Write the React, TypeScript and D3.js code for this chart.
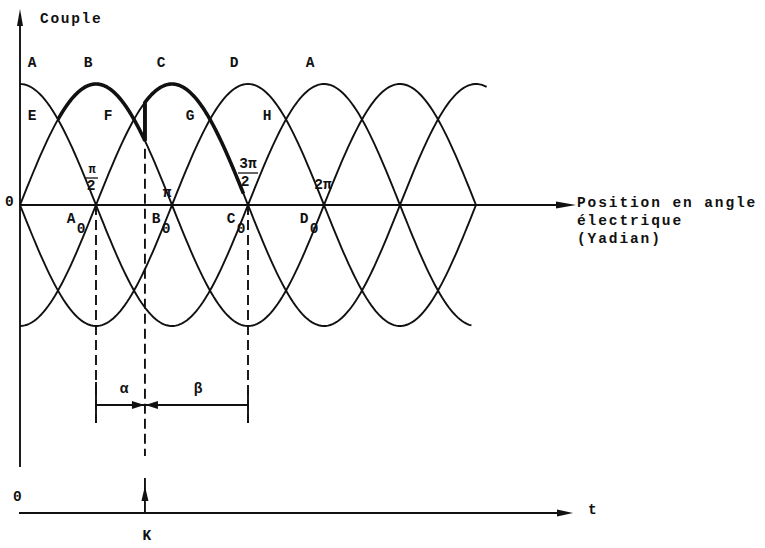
import React from 'react';
import * as d3 from 'd3';

const W = 765;
const H = 548;

// Phase windings, each torque curve is cos(θ − shift·π)
const phaseNames = ['A', 'B', 'C', 'D'];
const phaseShifts = [0, 0.5, 1, 1.5];
// Where each curve stops, in units of π
const curveEnds = [2.97, 3, 3.07, 3];

// Labels above the torque peaks (angle in units of π)
const peakNames = ['A', 'B', 'C', 'D', 'A'];
const peakAngles = [0, 0.5, 1, 1.5, 2];

// Crossing points of neighbouring curves
const crossNames = ['E', 'F', 'G', 'H'];
const crossAngles = [0.25, 0.75, 1.25, 1.75];

// Stable zero-torque positions
const zeroNames = ['A', 'B', 'C', 'D'];
const zeroAngles = [0.5, 1, 1.5, 2];

// Switching instant K and the stretch of the bold torque path
const boldStart = 0.25;
const switchAngle = 0.822;
const boldEnd = 1.47;

const FONT = "'Liberation Mono', 'DejaVu Sans Mono', monospace";

export default function App() {
  const x = d3.scaleLinear().domain([0, 3 * Math.PI]).range([20, 476]);
  const y = d3.scaleLinear().domain([-1, 1]).range([326, 84]);

  const torque = (i: number, t: number) => Math.cos(t - phaseShifts[i] * Math.PI);

  const line = d3
    .line<[number, number]>()
    .x((d) => x(d[0]))
    .y((d) => y(d[1]))
    .curve(d3.curveLinear);

  const sample = (i: number, a: number, b: number) =>
    d3.range(0, 201).map((k) => {
      const t = (a + ((b - a) * k) / 200) * Math.PI;
      return [t, torque(i, t)] as [number, number];
    });

  const y0 = y(0);
  const xK = x(switchAngle * Math.PI);

  const boldPath =
    line(sample(1, boldStart, switchAngle))! +
    'L' +
    line(sample(2, switchAngle, boldEnd))!.slice(1);

  const peakDx = [12, -8, -11, -14, -14];
  const crossDx = [-26, -26, -20, -19];
  const zeroDx = [-25, -16, -17, -20];

  const txt = { fontFamily: FONT, fontSize: 14.5, fontWeight: 700, fill: '#111' } as const;

  return (
    <svg width={W} height={H} viewBox={`0 0 ${W} ${H}`} style={{ position: 'absolute', left: 0, top: 0, background: '#fff' }}>
      <g stroke="#111" fill="none" strokeWidth={1.9}>
        {/* torque vs. angle axes */}
        <line x1={20} y1={14} x2={20} y2={467} />
        <line x1={20} y1={y0} x2={560} y2={y0} />
        {/* time axis */}
        <line x1={19} y1={513} x2={560} y2={513} />
        {/* phase curves */}
        {phaseNames.map((n, i) => (
          <path key={n} d={line(sample(i, 0, curveEnds[i]))!} />
        ))}
        <path d={boldPath} strokeWidth={3.6} strokeLinejoin="miter" />
        <line x1={xK} y1={y(torque(1, switchAngle * Math.PI))} x2={xK} y2={y(torque(2, switchAngle * Math.PI))} strokeWidth={3.6} />
        {/* dashed verticals */}
        <line x1={x(0.5 * Math.PI)} y1={y0} x2={x(0.5 * Math.PI)} y2={423} strokeDasharray="10,5" />
        <line x1={x(1.5 * Math.PI)} y1={y0} x2={x(1.5 * Math.PI)} y2={423} strokeDasharray="10,5" />
        <line x1={xK} y1={y(torque(1, switchAngle * Math.PI)) + 8} x2={xK} y2={456} strokeDasharray="10,5" />
        {/* α / β bracket */}
        <line x1={x(0.5 * Math.PI)} y1={382} x2={x(0.5 * Math.PI)} y2={423} />
        <line x1={x(1.5 * Math.PI)} y1={390} x2={x(1.5 * Math.PI)} y2={423} />
        <line x1={x(0.5 * Math.PI)} y1={405} x2={x(1.5 * Math.PI)} y2={405} />
        {/* K marker */}
        <line x1={xK} y1={478} x2={xK} y2={513} />
      </g>
      <g fill="#111" stroke="none">
        {/* arrowheads */}
        <path d="M20,9 L17,26 L23,26 Z" />
        <path d="M576,205 L556,201.5 L556,208.5 Z" />
        <path d="M573,513 L557,509.5 L557,516.5 Z" />
        <path d={`M${xK - 0.5},${405} L${xK - 13},${401} L${xK - 13},${409} Z`} />
        <path d={`M${xK + 0.5},${405} L${xK + 13},${401} L${xK + 13},${409} Z`} />
        <path d={`M${xK},${486} L${xK - 3.5},${501} L${xK + 3.5},${501} Z`} />
      </g>
      <g style={txt as any}>
        <text x={40} y={23} letterSpacing={1.7}>Couple</text>
        <text x={5} y={206}>0</text>
        <text x={577} y={207} letterSpacing={1.9}>Position en angle</text>
        <text x={577} y={225} letterSpacing={1.9}>électrique</text>
        <text x={577} y={243} letterSpacing={1.9}>(Yadian)</text>
        <text x={13} y={501}>0</text>
        <text x={588} y={514}>t</text>
        <text x={xK + 2} y={540} textAnchor="middle">K</text>

        {peakNames.map((n, i) => (
          <text key={'p' + i} x={x(peakAngles[i] * Math.PI) + peakDx[i]} y={67} textAnchor="middle">{n}</text>
        ))}
        {crossNames.map((n, i) => (
          <text key={'c' + i} x={x(crossAngles[i] * Math.PI) + crossDx[i]} y={120} textAnchor="middle">{n}</text>
        ))}
        {zeroNames.map((n, i) => (
          <g key={'z' + i}>
            <text x={x(zeroAngles[i] * Math.PI) + zeroDx[i]} y={223} textAnchor="middle">{n}</text>
            <text x={x(zeroAngles[i] * Math.PI) + zeroDx[i] + 10} y={233} textAnchor="middle">0</text>
          </g>
        ))}

        {/* angle marks */}
        <text x={92} y={173} textAnchor="middle" fontSize={12}>π</text>
        <line x1={86} y1={178} x2={98} y2={178} stroke="#111" strokeWidth={1.3} />
        <text x={91} y={190} textAnchor="middle">2</text>
        <text x={167} y={197} textAnchor="middle">π</text>
        <text x={248} y={168} textAnchor="middle" letterSpacing={0}>3π</text>
        <line x1={238} y1={173} x2={258} y2={173} stroke="#111" strokeWidth={1.3} />
        <text x={245} y={186} textAnchor="middle">2</text>
        <text x={323} y={189} textAnchor="middle">2π</text>

        <text x={124} y={393} textAnchor="middle">α</text>
        <text x={198} y={393} textAnchor="middle">β</text>
      </g>
    </svg>
  );
}
